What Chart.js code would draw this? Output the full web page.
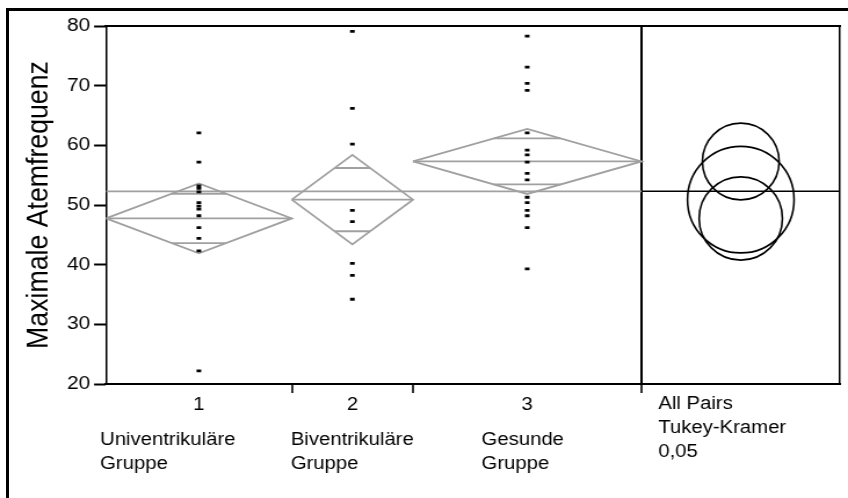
<!DOCTYPE html>
<html><head><meta charset="utf-8">
<script src="https://cdn.jsdelivr.net/npm/chart.js@4.4.1/dist/chart.umd.min.js"></script>
<style>
html,body{margin:0;padding:0;background:#fff;overflow:hidden;width:848px;height:498px}
#wrap{position:absolute;left:0;top:0;width:731px;height:498px;transform:scaleX(1.16005);transform-origin:0 0}
#frame{position:absolute;left:6px;top:8px;width:900px;height:600px;border-left:3px solid #000;border-top:3px solid #000;pointer-events:none}
</style></head><body>
<div id="wrap"><canvas id="c" width="731" height="498"></canvas></div>
<div id="frame"></div>
<script>
// ---- data ----
const groupNumbers = ['1', '2', '3'];
const groupNames = [['Univentrikuläre', 'Gruppe'], ['Biventrikuläre', 'Gruppe'], ['Gesunde', 'Gruppe']];
const testNote = ['All Pairs', 'Tukey-Kramer', '0,05'];
const yAxisTitle = 'Maximale Atemfrequenz';
const yMin = 20, yMax = 80, yStep = 10;

const univentrikulaer = [62.1, 57.2, 53.2, 52.8, 52.2, 50.4, 49.8, 49.3, 48.2, 46.2, 44.4, 42.3, 22.2];
const biventrikulaer = [79.1, 66.2, 60.2, 49.1, 47.2, 40.2, 38.2, 34.2];
const gesunde = [78.3, 73.1, 70.4, 69.2, 62.1, 59.2, 58.4, 57.2, 55.3, 54.2, 51.3, 50.4, 49.1, 48.2, 46.2, 39.3];

const groupMeans = [47.75, 50.9, 57.3];
const ciLower = [41.9, 43.4, 51.85];
const ciUpper = [53.6, 58.4, 62.75];
const grandMean = 52.3;
const circleRadii = [6.98, 8.93, 6.43];

// ---- layout (not data) ----
const STRETCH = 848 / 731;
const FONT = '"Liberation Sans", Arial, sans-serif';
const groupEdges = [0, 187, 309, 539];
const panelRight = 739;
const nameX = [-6, 186, 378];
const noteX = 556;
const GRAY = '#a0a0a0';
const CLEAR = 'rgba(0,0,0,0)';

const groups = [univentrikulaer, biventrikulaer, gesunde];
const centers = [0, 1, 2].map(i => (groupEdges[i] + groupEdges[i + 1]) / 2);
const panelCenter = (groupEdges[3] + panelRight) / 2;

const datasets = [];
groups.forEach((vals, i) => {
  datasets.push({
    data: vals.map(v => ({x: centers[i], y: v})),
    showLine: false, pointStyle: 'line', pointRadius: 2, pointBorderWidth: 2.8,
    pointBorderColor: '#000', pointBackgroundColor: '#000', order: 0, xAxisID: 'x', yAxisID: 'y'
  });
});
const lineDs = (pts, color, w) => ({
  data: pts, showLine: true, borderColor: color, borderWidth: w, pointRadius: 0,
  fill: false, tension: 0, order: 1, xAxisID: 'x', yAxisID: 'y'
});
groups.forEach((vals, i) => {
  const L = groupEdges[i], R = groupEdges[i + 1], C = centers[i];
  const m = groupMeans[i], lo = ciLower[i], hi = ciUpper[i];
  datasets.push(lineDs([{x: L, y: m}, {x: C, y: hi}, {x: R, y: m}, {x: C, y: lo}, {x: L, y: m}], GRAY, 1.8));
  datasets.push(lineDs([{x: L, y: m}, {x: R, y: m}], GRAY, 1.8));
  const d = (hi - lo) / (2 * Math.SQRT2);
  const hw = (R - L) / 2 * (1 - Math.SQRT1_2);
  datasets.push(lineDs([{x: C - hw, y: m + d}, {x: C + hw, y: m + d}], GRAY, 1.8));
  datasets.push(lineDs([{x: C - hw, y: m - d}, {x: C + hw, y: m - d}], GRAY, 1.8));
});
datasets.push(lineDs([{x: groupEdges[0], y: grandMean}, {x: groupEdges[3], y: grandMean}], GRAY, 1.8));
datasets.push(lineDs([{x: groupEdges[3], y: grandMean}, {x: panelRight, y: grandMean}], '#000', 1.6));
datasets.push({
  data: groupMeans.map(m => ({x: panelCenter, y: m})),
  showLine: false, pointStyle: 'circle',
  pointRadius: c => {
    if (c.dataIndex === undefined || !c.chart.scales.y) return 0;
    const s = c.chart.scales.y;
    return Math.abs(s.getPixelForValue(yMin) - s.getPixelForValue(yMin + circleRadii[c.dataIndex]));
  },
  pointBackgroundColor: CLEAR, pointBorderColor: '#000', pointBorderWidth: 1.8,
  order: 0, clip: false, isCircle: true, xAxisID: 'x', yAxisID: 'y'
});

const circleFix = {
  id: 'circleFix',
  beforeDatasetDraw(chart, args) {
    if (chart.data.datasets[args.index].isCircle) {
      const ctx = chart.ctx, cx = chart.scales.x.getPixelForValue(panelCenter);
      ctx.save(); ctx.translate(cx, 0); ctx.scale(1 / STRETCH, 1); ctx.translate(-cx, 0);
    }
  },
  afterDatasetDraw(chart, args) {
    if (chart.data.datasets[args.index].isCircle) chart.ctx.restore();
  }
};

const flatX = a => { a.height = 0; a.paddingLeft = 0; a.paddingRight = 0; };
const noPadX = a => { a.paddingLeft = 0; a.paddingRight = 0; };
const mainTicks = [centers[0], groupEdges[1], centers[1], groupEdges[2], centers[2], groupEdges[3]];

new Chart(document.getElementById('c'), {
  type: 'scatter',
  data: {datasets},
  plugins: [circleFix],
  options: {
    responsive: false, animation: false, events: [],
    layout: {padding: {left: 0, top: 26, right: 2.55, bottom: 0}},
    plugins: {legend: {display: false}, tooltip: {enabled: false}},
    scales: {
      x: {
        type: 'linear', axis: 'x', position: 'bottom', weight: 0, min: 0, max: panelRight,
        afterBuildTicks: a => { a.ticks = mainTicks.map(v => ({value: v})); },
        ticks: {autoSkip: false, maxRotation: 0, color: '#000', padding: 2.1,
          font: {family: FONT, size: 17.5, lineHeight: 1.2},
          callback: (v, i) => (i % 2 === 0 ? groupNumbers[i / 2] : '')},
        grid: {display: true, drawOnChartArea: true, drawTicks: true, tickLength: 9,
          color: c => (c.index === 5 ? '#000' : CLEAR), lineWidth: 2,
          tickColor: c => (c.index % 2 === 1 ? '#000' : CLEAR), tickWidth: 1.6},
        border: {display: true, color: '#000', width: 2},
        afterFit: a => { a.height = 114; a.paddingLeft = 0; a.paddingRight = 0; }
      },
      xNames: {
        type: 'linear', axis: 'x', position: {y: yMin}, min: 0, max: panelRight,
        afterBuildTicks: a => { a.ticks = nameX.map(v => ({value: v})); },
        ticks: {autoSkip: false, maxRotation: 0, align: 'start', color: '#000', padding: 45,
          font: {family: FONT, size: 17.5, lineHeight: 1.331},
          callback: (v, i) => groupNames[i]},
        grid: {display: false, drawTicks: false}, border: {display: false},
        afterFit: noPadX
      },
      xNote: {
        type: 'linear', axis: 'x', position: {y: yMin}, min: 0, max: panelRight,
        afterBuildTicks: a => { a.ticks = [{value: noteX}]; },
        ticks: {autoSkip: false, maxRotation: 0, align: 'start', color: '#000', padding: 8.3,
          font: {family: FONT, size: 17.5, lineHeight: 1.36},
          callback: () => testNote},
        grid: {display: false, drawTicks: false}, border: {display: false},
        afterFit: noPadX
      },
      xTop: {
        type: 'linear', axis: 'x', position: 'top', min: 0, max: panelRight,
        ticks: {display: false}, grid: {display: false, drawTicks: false},
        border: {display: true, color: '#000', width: 2},
        afterFit: flatX
      },
      y: {
        type: 'linear', axis: 'y', position: 'left', min: yMin, max: yMax,
        ticks: {stepSize: yStep, color: '#000', padding: 3.4, font: {family: FONT, size: 18}},
        grid: {display: true, drawOnChartArea: false, drawTicks: true, tickLength: 10.3,
          tickColor: '#000', tickWidth: 2, color: '#000'},
        border: {display: true, color: '#000', width: 1.5},
        title: {display: true, text: yAxisTitle, color: '#000',
          font: {family: FONT, size: 26.7, lineHeight: 1}, padding: {top: 20.5, bottom: 0}},
        afterFit: a => { a.width = 91.38; a.paddingTop = 0; a.paddingBottom = 0; }
      },
      yRight: {
        type: 'linear', axis: 'y', position: 'right', min: yMin, max: yMax,
        ticks: {display: false}, grid: {display: false, drawTicks: false},
        border: {display: true, color: '#000', width: 1.5},
        afterFit: a => { a.width = 0; a.paddingTop = 0; a.paddingBottom = 0; }
      }
    }
  }
});
</script>
</body></html>
